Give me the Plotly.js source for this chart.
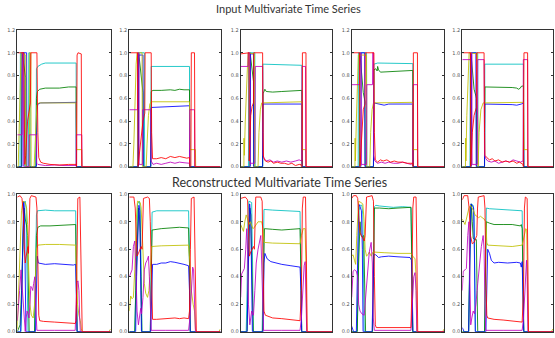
<!DOCTYPE html>
<html><head><meta charset="utf-8">
<script src="https://cdn.plot.ly/plotly-3.0.1.min.js"></script>
<style>html,body{margin:0;padding:0;background:#fff}#chart{width:555px;height:338px}</style>
</head><body><div id="chart"></div>
<script>
// ---- Data: each series is a list of [time, value] samples ----
// Input panels (top row)
const in1_r=[[0,1],[7,1],[8,0.02],[9,0.1],[11,0.4],[13,0.53],[14,0.56],[14.5,1],[21,1],[22,0.3],[23,0.08],[25,0.04],[28,0.03],[35,0.02],[45,0.015],[55,0.02],[63,0.02],[63.5,0],[64,0.98],[65,1],[68.5,0.99],[69,0],[100,0]];
const in1_c=[[0,0],[3,0],[3.3,1],[7.5,1],[7.8,0],[12,0],[12.3,1],[13.5,1],[13.8,0],[20,0],[20.5,0.86],[22,0.88],[26,0.9],[30,0.91],[63,0.91],[63.3,0],[100,0]];
const in1_g=[[0,0],[4.5,0],[5,1],[6,0.95],[7,0.88],[8,0.82],[9,0.78],[9.3,0],[20,0],[20.5,0.6],[21.5,0.66],[24,0.68],[30,0.69],[45,0.69],[55,0.7],[63,0.7],[63.3,0],[100,0]];
const in1_b=[[0,0],[5,0],[5.3,1],[10,1],[10.3,0],[20.5,0],[21,0.5],[22,0.55],[25,0.56],[63,0.565],[63.3,0],[100,0]];
const in1_y=[[0,0],[1,0],[4,0.98],[5,1],[9,0.98],[9.3,0],[13,0],[13.3,1],[14.5,1],[14.8,0],[18,0],[19,0.2],[20,0.45],[21,0.54],[23,0.56],[63,0.56],[63.5,0.15],[69,0.15],[69.3,0],[100,0]];
const in1_m=[[0,0.28],[5,0.28],[5.3,1],[6.5,1],[6.8,0],[12.5,0],[12.8,0.28],[20.5,0.28],[20.8,0.03],[22,0.02],[30,0.01],[40,0.015],[50,0.01],[63,0.01],[63.3,0.28],[69,0.28],[69.3,0],[100,0]];

const in2_r=[[0,1],[9,1],[9.5,0],[11.5,0.15],[13,0.3],[15,0.4],[17,0.47],[17.3,1],[24,1],[24.5,0.3],[25.5,0.07],[30,0.07],[35,0.08],[40,0.07],[45,0.09],[50,0.08],[55,0.09],[60,0.08],[63,0.075],[66,0.08],[66.3,0],[67.5,0],[68,1],[71.5,1],[72,0],[100,0]];
const in2_c=[[0,0],[9,0],[9.3,1],[16.5,1],[16.8,0],[23.5,0],[24,0.88],[66,0.88],[66.3,0],[100,0]];
const in2_g=[[0,0],[10,0],[10.3,1],[11,0.95],[12,0.85],[13,0.77],[14,0.7],[15,0.65],[15.3,0],[23.5,0],[24,0.66],[26,0.67],[35,0.67],[45,0.675],[50,0.67],[55,0.68],[60,0.675],[66,0.675],[66.3,0],[100,0]];
const in2_b=[[0,0],[10,0],[10.3,0.98],[15,0.98],[15.3,0],[23.5,0],[24,0.52],[40,0.525],[55,0.53],[66,0.535],[66.3,0],[100,0]];
const in2_y=[[0,0],[4,0],[5,0.2],[6,0.5],[7.5,0.9],[8.5,1],[14,1],[14.3,0],[18.5,0],[19.5,0.2],[21,0.45],[22.5,0.55],[24,0.57],[66,0.57],[66.5,0.15],[72.5,0.15],[72.8,0],[100,0]];
const in2_m=[[0,0.5],[9,0.5],[9.3,1],[10.5,1],[10.8,0.02],[14.3,0.02],[14.6,0.5],[23.5,0.5],[24,0.05],[26,0.02],[30,0.03],[35,0.02],[40,0.03],[45,0.04],[50,0.03],[55,0.04],[60,0.035],[66,0.03],[66.3,0.5],[71.5,0.5],[71.8,0],[100,0]];

const in3_r=[[0,0.99],[9,1],[9.3,0.05],[10,0.3],[11,0.45],[12.5,0.53],[14,0.56],[14.3,1],[24,1],[24.5,0.3],[25,0.08],[27,0.05],[30,0.04],[33,0.05],[36,0.03],[40,0.04],[44,0.03],[48,0.03],[52,0.02],[56,0.03],[60,0.01],[64,0.02],[66,0.02],[66.3,0],[67.3,0],[67.6,1],[71.5,1],[71.8,0],[100,0]];
const in3_c=[[0,0],[8.5,0],[8.8,1],[15.5,1],[15.8,0],[24,0],[24.3,0.9],[67,0.89],[67.3,0],[100,0]];
const in3_g=[[0,0],[10,0],[10.3,1],[11,0.95],[12,0.88],[13,0.8],[14,0.75],[14.3,0],[24,0],[24.5,0.64],[25.5,0.66],[26.5,0.68],[28,0.66],[35,0.655],[45,0.66],[55,0.665],[62,0.67],[67,0.67],[67.3,0],[100,0]];
const in3_b=[[0,0],[10.5,0],[10.8,0.99],[14,0.99],[14.3,0],[24,0],[24.3,0.55],[67,0.55],[67.3,0],[100,0]];
const in3_y=[[0,0],[3.5,0],[3.6,0.25],[4,0.1],[5,0.4],[6.5,0.8],[8,1],[15,0.99],[15.3,0],[19,0],[20,0.3],[21.5,0.5],[23,0.56],[67,0.57],[67.5,0.15],[71,0.15],[71.3,0],[100,0]];
const in3_m=[[0,0.88],[8,0.88],[8.3,1],[10,1],[10.3,0.02],[11,0.03],[15.5,0.03],[16,0.88],[24,0.88],[24.5,0.1],[26,0.07],[28,0.05],[32,0.06],[36,0.04],[40,0.05],[45,0.04],[50,0.05],[55,0.04],[60,0.05],[64,0.06],[67,0.05],[67.3,0.88],[71,0.88],[71.3,0],[100,0]];

const in4_r=[[0,1],[8.5,1],[9,0],[10,0.15],[11,0.35],[12.5,0.5],[14.4,0.55],[14.7,1],[24,1],[24.5,0.3],[25.5,0.06],[28,0.04],[31,0.06],[34,0.05],[38,0.06],[42,0.04],[46,0.05],[50,0.04],[55,0.04],[60,0.03],[64,0.03],[66,0.03],[66.3,0],[66.6,1],[71,1],[71.3,0],[100,0]];
const in4_c=[[0,0],[7,0],[7.3,1],[16,1],[16.3,0],[23.5,0],[24,0.9],[28,0.91],[66,0.905],[66.3,0],[100,0]];
const in4_g=[[0,0],[8.5,0],[8.8,1],[10,0.9],[11,0.78],[12.5,0.65],[14.4,0.57],[14.7,0],[23.5,0],[24,0.85],[26,0.86],[27.5,0.84],[28,0.88],[29,0.85],[31,0.83],[40,0.835],[50,0.84],[60,0.845],[66,0.845],[66.3,0],[100,0]];
const in4_b=[[0,0],[10,0],[10.3,1],[14,1],[14.3,0],[23.5,0],[24,0.56],[30,0.55],[35,0.54],[40,0.55],[66,0.55],[66.3,0],[100,0]];
const in4_y=[[0,0],[3.5,0],[3.7,0.25],[4,0.05],[5,0.4],[6,0.75],[7.2,0.98],[16,0.98],[16.3,0],[19.5,0],[20.5,0.3],[22,0.5],[23.5,0.56],[66,0.565],[66.5,0.15],[71,0.15],[71.3,0],[100,0]];
const in4_m=[[0,0.72],[8.5,0.72],[8.8,1],[10,1],[10.3,0.02],[16,0.02],[16.3,0.72],[22.5,0.72],[22.7,1],[23.5,1],[23.8,0.1],[25,0.05],[28,0.03],[32,0.04],[36,0.03],[40,0.04],[45,0.03],[50,0.03],[55,0.04],[60,0.03],[64,0.02],[66,0.03],[66.3,0.72],[71,0.72],[71.3,0],[100,0]];

const in5_r=[[0,1],[9,1],[9.3,0],[10,0.1],[11,0.3],[13,0.45],[15.5,0.52],[15.8,1],[24,1],[24.5,0.3],[25,0.1],[27,0.08],[30,0.06],[33,0.07],[36,0.05],[40,0.06],[44,0.04],[48,0.05],[52,0.04],[56,0.05],[60,0.03],[63,0.04],[66,0.02],[67,0.02],[67.3,0],[68,1],[72,1],[72.3,0],[100,0]];
const in5_c=[[0,0],[8.5,0],[8.8,1],[17,1],[17.3,0],[24.5,0],[24.8,0.9],[67.5,0.9],[67.8,0],[100,0]];
const in5_g=[[0,0],[9,0],[9.5,1],[10.5,0.9],[11.5,0.78],[13,0.68],[15,0.62],[15.5,0.6],[15.8,0],[24.5,0],[25,0.7],[35,0.7],[45,0.7],[55,0.695],[60,0.69],[62,0.68],[64,0.69],[65,0.705],[67.5,0.71],[67.8,0],[100,0]];
const in5_b=[[0,0],[10,0],[10.3,1],[15,1],[15.3,0],[24.5,0],[24.8,0.55],[40,0.55],[55,0.545],[60,0.54],[63,0.545],[65,0.55],[67.5,0.56],[67.8,0],[100,0]];
const in5_y=[[0,0],[3.5,0],[3.7,0.25],[4,0.05],[5,0.45],[6.5,0.85],[7.5,1],[16.5,0.99],[16.8,0],[17.5,0],[18.5,0.3],[20.5,0.5],[23,0.56],[67.5,0.565],[68,0.15],[72,0.15],[72.3,0],[100,0]];
const in5_m=[[0,0.94],[9,0.94],[9.3,1],[10.5,1],[10.8,0.02],[16.5,0.02],[17,0.94],[24,0.94],[24.5,0.1],[26,0.07],[28,0.05],[32,0.04],[36,0.05],[40,0.03],[44,0.04],[48,0.05],[52,0.04],[56,0.06],[60,0.05],[64,0.04],[67,0.05],[67.3,0.94],[72,0.94],[72.3,0],[100,0]];

// Reconstructed panels (bottom row)
const rec1_r=[[0,0.98],[3,0.99],[5,0.97],[6.5,0.85],[7.5,0.6],[8.5,0.5],[9.5,0.55],[10.5,0.6],[11.5,0.62],[12,0.57],[12.8,0.8],[13.5,0.97],[15,0.99],[20,0.98],[21,0.9],[22,0.4],[23,0.12],[24,0.08],[28,0.075],[40,0.07],[55,0.065],[62,0.06],[63,0.08],[64,0.5],[64.8,0.97],[67,0.98],[68,0.6],[68.7,0.05],[69.5,0],[100,0]];
const rec1_c=[[0,0],[4,0],[5,0.3],[6,0.8],[7,0.93],[8.5,0.95],[9.5,0.9],[10.2,0.5],[10.8,0.05],[11.5,0],[18.5,0],[19.5,0.4],[20.5,0.85],[21.5,0.88],[30,0.885],[40,0.88],[50,0.88],[60,0.875],[62.5,0.88],[63.3,0.4],[64,0],[100,0]];
const rec1_g=[[0,0],[3,0.05],[4.5,0.3],[6,0.7],[7.2,0.9],[8.5,0.82],[10,0.77],[11,0.7],[12,0.3],[12.7,0],[18.5,0],[19.5,0.3],[20.5,0.7],[22,0.76],[25,0.77],[35,0.77],[45,0.775],[55,0.775],[61,0.78],[62.5,0.78],[63.3,0.3],[64,0],[100,0]];
const rec1_b=[[0,0],[3.5,0],[4.5,0.2],[6,0.8],[6.8,0.95],[7.5,0.9],[8.5,0.4],[9.3,0],[19.5,0],[20.5,0.3],[21.3,0.55],[22.5,0.5],[30,0.49],[40,0.495],[50,0.49],[60,0.485],[62.5,0.49],[63.3,0.2],[64,0],[100,0]];
const rec1_y=[[0,0.02],[1.5,0.3],[3,0.7],[4.5,0.88],[6,0.95],[8.5,0.94],[10,0.9],[11,0.78],[12,0.5],[13.5,0.2],[15,0.12],[17,0.1],[18.5,0.2],[19.5,0.45],[20.5,0.6],[22,0.63],[30,0.635],[45,0.635],[60,0.635],[62.5,0.63],[63.5,0.45],[64.5,0.2],[66,0.12],[67.5,0.08],[68.5,0.02],[69.5,0],[98,0],[100,0.02]];
const rec1_m=[[0,0.08],[1,0.15],[2.5,0.3],[4,0.45],[5,0.35],[6,0.3],[7,0.2],[7.8,0.05],[8.5,0],[9.5,0.1],[10.5,0.15],[11.5,0.13],[12.5,0.1],[13.5,0.2],[14.5,0.33],[15.5,0.32],[16.5,0.3],[17.5,0.35],[18.8,0.4],[19.6,0.2],[20.3,0.02],[21,0.01],[40,0.01],[62,0.01],[63,0.2],[64,0.36],[65,0.37],[66,0.3],[66.8,0.1],[67.5,0],[100,0]];

const rec2_r=[[0,0.98],[5,0.98],[6.5,0.9],[7.5,0.65],[8.5,0.55],[10,0.57],[11.5,0.6],[13,0.62],[14,0.6],[14.7,0.85],[15.5,0.97],[20,0.98],[22,0.97],[23,0.8],[24.5,0.2],[25.5,0.09],[30,0.09],[40,0.095],[45,0.1],[50,0.1],[55,0.095],[60,0.1],[65,0.095],[66,0.15],[67,0.6],[68,0.97],[71,0.98],[72,0.5],[72.8,0.02],[73.5,0],[100,0]];
const rec2_c=[[0,0],[6,0],[7,0.3],[8,0.8],[9,0.93],[11,0.95],[12,0.9],[13,0.4],[13.8,0],[23,0],[24,0.5],[25,0.87],[30,0.88],[40,0.88],[50,0.885],[60,0.88],[65,0.88],[66,0.5],[66.8,0],[100,0]];
const rec2_g=[[0,0],[6,0],[7.5,0.4],[9,0.8],[10,0.9],[11,0.85],[12,0.72],[13,0.3],[13.8,0],[23,0],[24,0.5],[25,0.74],[35,0.75],[45,0.755],[55,0.76],[65,0.755],[66,0.5],[66.8,0],[100,0]];
const rec2_b=[[0,0],[7,0],[8,0.4],[9.5,0.85],[10.5,0.92],[11.5,0.88],[12.5,0.4],[13.3,0],[23.5,0],[24.5,0.4],[25.5,0.49],[30,0.49],[35,0.5],[40,0.5],[45,0.51],[50,0.505],[55,0.5],[60,0.49],[65,0.48],[66,0.3],[66.8,0],[100,0]];
const rec2_y=[[0,0.15],[1.5,0.26],[3,0.24],[4.5,0.25],[6,0.45],[7.5,0.8],[9,0.95],[12,0.94],[13,0.9],[14,0.75],[15,0.5],[16.5,0.35],[18,0.28],[20,0.25],[21.5,0.3],[23,0.5],[24.5,0.62],[35,0.625],[50,0.63],[65,0.63],[66.5,0.5],[68,0.3],[70,0.2],[71.5,0.15],[72.5,0.02],[73.5,0],[98,0],[100,0.02]];
const rec2_m=[[0,0.4],[1.5,0.42],[3,0.45],[4.5,0.62],[6,0.66],[7,0.5],[8.5,0.15],[10,0.05],[11.5,0.12],[12.5,0.17],[13.5,0.13],[15,0.25],[16.5,0.45],[18,0.5],[19.5,0.52],[21,0.55],[22,0.4],[23,0.1],[24,0.01],[40,0.01],[65,0.01],[66.5,0.1],[68,0.35],[69.5,0.47],[70.5,0.45],[71.5,0.2],[72.5,0],[100,0]];

const rec3_r=[[0,0.97],[5,0.98],[7.5,0.96],[8.5,0.7],[9.5,0.55],[11,0.58],[12.5,0.6],[14,0.62],[15,0.6],[15.7,0.85],[16.5,0.98],[22,0.98],[23.5,0.95],[24.5,0.5],[25.5,0.15],[27,0.12],[35,0.1],[45,0.095],[55,0.09],[62,0.085],[65,0.08],[66.5,0.3],[67.5,0.9],[68.5,0.98],[71,0.98],[72,0.5],[72.8,0],[100,0]];
const rec3_c=[[0,0],[6,0],[7,0.3],[8,0.85],[9,0.95],[12,0.94],[13,0.5],[13.8,0],[23.5,0],[24.5,0.5],[25.5,0.89],[35,0.885],[45,0.88],[55,0.88],[65,0.875],[66,0.4],[66.8,0],[100,0]];
const rec3_g=[[0,0],[7,0],[8.5,0.5],[10,0.9],[11,0.85],[12,0.6],[13,0.2],[13.8,0],[24,0],[25,0.5],[26,0.75],[35,0.745],[45,0.74],[55,0.745],[65,0.75],[66,0.4],[66.8,0],[100,0]];
const rec3_b=[[0,0],[7,0],[8.5,0.5],[9.8,0.93],[11,0.85],[12,0.3],[12.8,0],[24.5,0],[25.5,0.5],[26.5,0.57],[29,0.53],[33,0.51],[38,0.5],[45,0.49],[55,0.48],[62,0.475],[65,0.47],[66,0.3],[66.8,0],[100,0]];
const rec3_y=[[0,0.78],[1.5,0.76],[3,0.73],[4.5,0.8],[6,0.85],[7.5,0.82],[9,0.78],[10.5,0.8],[12,0.78],[13.5,0.75],[15,0.76],[17,0.78],[19,0.8],[21,0.8],[23,0.8],[24.5,0.75],[25.5,0.65],[35,0.645],[50,0.645],[65,0.64],[66.5,0.7],[68.5,0.75],[70.5,0.75],[71.5,0.5],[72.5,0],[100,0]];
const rec3_m=[[0,0.25],[1,0.42],[2.5,0.44],[4,0.46],[5.5,0.6],[6.6,0.75],[7.5,0.6],[8.5,0.2],[10,0.05],[11,0.12],[12,0.15],[13,0.13],[14,0.12],[15.5,0.3],[17,0.5],[19,0.6],[20.5,0.65],[22,0.7],[23,0.5],[24,0.1],[25,0.01],[45,0.01],[65,0.01],[66.5,0.1],[68,0.3],[69.5,0.48],[70.6,0.51],[71.5,0.3],[72.3,0],[100,0]];

const rec4_r=[[0,0.97],[2,0.99],[5,0.99],[6.5,0.97],[7.5,0.85],[9,0.72],[10.5,0.7],[12,0.68],[13.5,0.66],[14.5,0.7],[15.3,0.9],[16,0.98],[22,0.99],[23.5,0.95],[24.5,0.4],[25.5,0.05],[26.5,0.03],[40,0.03],[55,0.03],[64,0.03],[65,0.3],[66,0.9],[67,0.98],[69.5,0.98],[70.5,0.5],[71.3,0],[100,0]];
const rec4_c=[[0,0],[6,0],[7,0.4],[8,0.88],[9,0.92],[11,0.92],[12,0.85],[12.8,0.3],[13.5,0],[22.5,0],[23.5,0.6],[24.5,0.91],[26,0.92],[30,0.915],[45,0.905],[55,0.91],[64,0.905],[65,0.5],[65.8,0],[100,0]];
const rec4_g=[[0,0],[6,0],[7.5,0.5],[9,0.8],[10,0.7],[11.5,0.69],[13,0.7],[14,0.4],[15,0],[22.5,0],[23.5,0.6],[24.5,0.9],[30,0.9],[40,0.895],[50,0.9],[64,0.905],[65,0.5],[65.8,0],[100,0]];
const rec4_b=[[0,0.04],[2,0],[5,0],[6.5,0.6],[7.5,0.93],[9,0.91],[10.5,0.88],[11.5,0.6],[12.3,0],[22,0],[23,0.3],[24,0.56],[26,0.56],[29,0.54],[32,0.545],[40,0.55],[50,0.545],[60,0.545],[63,0.54],[64.5,0.52],[65.5,0.2],[66.3,0],[100,0]];
const rec4_y=[[0,0.55],[1.5,0.56],[3,0.52],[4.3,0.49],[5.5,0.7],[6.5,0.9],[7.5,0.95],[10,0.94],[12,0.93],[13.5,0.8],[14.5,0.6],[16,0.55],[17.5,0.56],[19,0.58],[21,0.55],[23,0.58],[25,0.58],[35,0.575],[50,0.57],[64,0.57],[66,0.55],[68.4,0.53],[69.5,0.4],[70.3,0],[98,0],[100,0.02]];
const rec4_m=[[0,0.25],[1.5,0.44],[3,0.45],[5,0.44],[6.5,0.4],[7.5,0.2],[9,0.15],[11,0.13],[13.5,0.12],[15,0.25],[17,0.45],[19,0.58],[21,0.65],[22.3,0.5],[23.3,0.1],[24.5,0.01],[64,0.01],[65.5,0.2],[67,0.4],[68.4,0.43],[69.5,0.3],[70.3,0],[100,0]];

const rec5_r=[[0,0.96],[2,0.99],[6,0.99],[7.5,0.9],[9,0.7],[11,0.64],[13,0.65],[15,0.68],[16,0.7],[16.8,0.9],[17.6,0.98],[24,0.99],[25,0.9],[26,0.4],[27,0.12],[28,0.1],[35,0.09],[45,0.085],[55,0.08],[66,0.07],[67.5,0.3],[68.5,0.9],[69.5,0.98],[71.5,0.97],[72.3,0.5],[73,0],[100,0]];
const rec5_c=[[0,0],[7,0],[8,0.5],[9,0.9],[10,0.93],[12,0.92],[13,0.85],[13.8,0.3],[14.5,0],[24.5,0],[25.5,0.6],[26.5,0.9],[30,0.895],[40,0.89],[50,0.89],[60,0.885],[66,0.88],[67,0.4],[67.8,0],[100,0]];
const rec5_g=[[0,0],[7,0],[8.5,0.6],[10,0.93],[11,0.8],[12,0.68],[14,0.67],[15.5,0.67],[16.3,0.3],[17,0],[24.5,0],[25.5,0.6],[26.5,0.8],[30,0.79],[35,0.78],[45,0.78],[55,0.78],[64,0.77],[65,0.78],[66,0.75],[67,0.3],[67.8,0],[100,0]];
const rec5_b=[[0,0.03],[2,0],[7,0],[8,0.5],[9.5,0.93],[11,0.92],[12.5,0.9],[13.5,0.5],[14.3,0],[26,0],[27,0.4],[28,0.6],[30,0.57],[32,0.52],[35,0.5],[40,0.505],[50,0.5],[60,0.505],[64,0.5],[65,0.47],[66,0.51],[67,0.3],[67.8,0],[100,0]];
const rec5_y=[[0,0.82],[1.5,0.8],[3,0.78],[4.5,0.82],[6,0.86],[7.3,0.9],[9,0.92],[11,0.9],[12.5,0.88],[14,0.85],[16,0.84],[18,0.83],[20,0.84],[22,0.83],[24,0.82],[26,0.8],[27,0.65],[28,0.63],[40,0.625],[55,0.62],[66,0.63],[68,0.7],[70,0.75],[71,0.74],[72,0.4],[72.8,0],[98,0],[100,0.02]];
const rec5_m=[[0,0.3],[1,0.44],[3,0.45],[4.5,0.46],[6,0.7],[7.3,0.8],[8.3,0.4],[9.3,0.05],[10.5,0.1],[12,0.15],[13.5,0.13],[15,0.2],[17,0.35],[19,0.5],[21,0.62],[23,0.7],[24,0.6],[25,0.2],[25.8,0.01],[45,0.01],[66,0.01],[67.5,0.1],[69,0.35],[70.8,0.52],[71.5,0.4],[72.3,0],[100,0]];

const topTicks=[0,0.2,0.4,0.6,0.8,1.0,1.2];
const botTicks=[0,0.2,0.4,0.6,0.8,1.0];
const titleTop="Input Multivariate Time Series";
const titleBot="Reconstructed Multivariate Time Series";

// ---- Build ----
const panels=[
 [in1_c,in1_g,in1_b,in1_y,in1_m,in1_r],[in2_c,in2_g,in2_b,in2_y,in2_m,in2_r],
 [in3_c,in3_g,in3_b,in3_y,in3_m,in3_r],[in4_c,in4_g,in4_b,in4_y,in4_m,in4_r],
 [in5_c,in5_g,in5_b,in5_y,in5_m,in5_r],
 [rec1_c,rec1_g,rec1_b,rec1_y,rec1_m,rec1_r],[rec2_c,rec2_g,rec2_b,rec2_y,rec2_m,rec2_r],
 [rec3_c,rec3_g,rec3_b,rec3_y,rec3_m,rec3_r],[rec4_c,rec4_g,rec4_b,rec4_y,rec4_m,rec4_r],
 [rec5_c,rec5_g,rec5_b,rec5_y,rec5_m,rec5_r]];
const colors=['#00bfbf','#008000','#0000ff','#bfbf00','#bf00bf','#ff0000'];

const W=555,H=338;
const lefts=[17.3,129.3,240.7,351.7,462.3], rights=[110.7,220.5,332,444.3,553];
const topY=[30,166.7], botY=[194.3,331.7];

const traces=[]; const layout={width:W,height:H,margin:{l:0,r:0,t:0,b:0},paper_bgcolor:'#fff',plot_bgcolor:'#fff',showlegend:false,annotations:[]};
panels.forEach((series,i)=>{
  const k=i+1, col=i%5, row=i<5?0:1;
  const xa='x'+(k===1?'':k), ya='y'+(k===1?'':k);
  series.forEach((s,j)=>traces.push({x:s.map(p=>p[0]),y:s.map(p=>p[1]),mode:'lines',xaxis:xa,yaxis:ya,
     line:{color:colors[j],width:1},opacity:0.85,hoverinfo:'skip',showlegend:false}));
  const yy=row===0?topY:botY;
  layout['xaxis'+(k===1?'':k)]={domain:[lefts[col]/W,rights[col]/W],range:[0,100],showgrid:false,zeroline:false,
     showticklabels:false,ticks:'',showline:true,mirror:true,linecolor:'#333',linewidth:1,anchor:ya};
  layout['yaxis'+(k===1?'':k)]={domain:[(H-yy[1])/H,(H-yy[0])/H],range:row===0?[0,1.2]:[0,1.0],
     tickvals:row===0?topTicks:botTicks,tickformat:'.1f',showgrid:false,zeroline:false,
     ticks:'inside',ticklen:2,tickcolor:'#333',showline:true,mirror:'ticks',linecolor:'#333',linewidth:1,
     tickfont:{family:'DejaVu Sans',size:5,color:'#555'},anchor:xa};
});
layout.annotations.push({text:titleTop,xref:'paper',yref:'paper',x:288/W,y:(H-8)/H,showarrow:false,xanchor:'center',yanchor:'middle',font:{family:'Lato',size:11,color:'#333'}});
layout.annotations.push({text:titleBot,xref:'paper',yref:'paper',x:279/W,y:(H-182)/H,showarrow:false,xanchor:'center',yanchor:'middle',font:{family:'Lato',size:12.5,color:'#333'}});
Plotly.newPlot('chart',traces,layout,{staticPlot:true,displayModeBar:false});
</script></body></html>
